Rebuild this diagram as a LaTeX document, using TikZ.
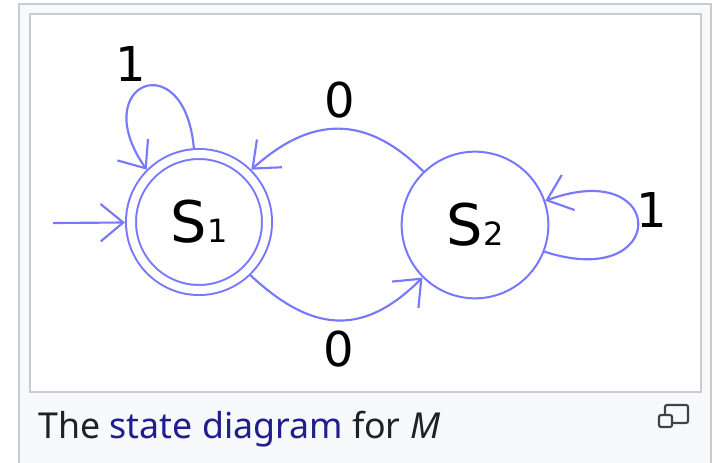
\documentclass[tikz,border=0pt]{standalone}
\usepackage{fontspec}
\setmainfont{DejaVu Sans}
\newfontfamily\capfont{Noto Sans}
\usetikzlibrary{arrows.meta}
\definecolor{edgeblue}{RGB}{120,120,255}
\definecolor{framegray}{HTML}{C8CCD1}
\definecolor{boxbg}{HTML}{F8F9FA}
\definecolor{captext}{HTML}{202122}
\definecolor{linkblue}{RGB}{30,30,140}
\definecolor{icongray}{HTML}{404244}

\begin{document}
\begin{tikzpicture}[
    x=0.75pt, y=0.75pt,
    st/.style={circle, draw=edgeblue, line width=1.5pt, minimum size=110pt,
               inner sep=0pt, outer sep=0.75pt, font=\fontsize{43pt}{48pt}\selectfont},
    acc/.style={st, double, double distance=6pt, minimum size=102pt, outer sep=4.5pt},
    arr/.style={edgeblue, line width=1.6pt, -{Straight Barb[length=17pt, width=28pt]}},
    lbl/.style={font=\fontsize{36pt}{40pt}\selectfont, inner sep=0pt},
    frame/.style={draw=framegray, line width=1.5pt},
    icon/.style={draw=icongray, line width=1.6pt, rounded corners=1.5pt},
  ]
    \clip (0,0) rectangle (713,-463);

    % thumbnail frame
    \draw[frame, fill=boxbg] (19,-4) rectangle (711,-480);
    \draw[frame, fill=white] (30,-14) rectangle (701,-392);

    % states
    \node[acc] (s1) at (199,-222) {S{\fontsize{24pt}{26pt}\selectfont 1}};
    \node[st] (s2) at (475,-225) {S{\fontsize{24pt}{26pt}\selectfont 2}};
    \coordinate (init) at (53,-223);

    % transitions
    \draw[arr] (init) -- (s1);
    \draw[arr] (s1.94) to[out=95, in=125, looseness=5.2] (s1.135);
    \draw[arr] (s2.134) to[out=135, in=42, looseness=1.2] (s1.45);
    \draw[arr] (s1.-46) to[out=-43, in=-135, looseness=1.25] (s2.225);
    \draw[arr] (s2.-21) to[out=-18, in=20, looseness=6.6] (s2.19);

    \node[lbl] (l11) at (131,-64) {1};
    \node[lbl] (l12) at (340,-100) {0};
    \node[lbl] (l21) at (339,-349) {0};
    \node[lbl] (l22) at (652,-210) {1};

    % caption
    \node[anchor=base west, inner sep=0pt, text=captext,
          font=\capfont\fontsize{26.8pt}{30pt}\selectfont] (cap) at (38,-438)
      {The \textcolor{linkblue}{state diagram} for \textit{M}};
    \draw[icon] (665,-405) rectangle (688,-423);
    \draw[icon, fill=boxbg] (659,-415) rectangle (672,-427);
  \end{tikzpicture}
\end{document}
